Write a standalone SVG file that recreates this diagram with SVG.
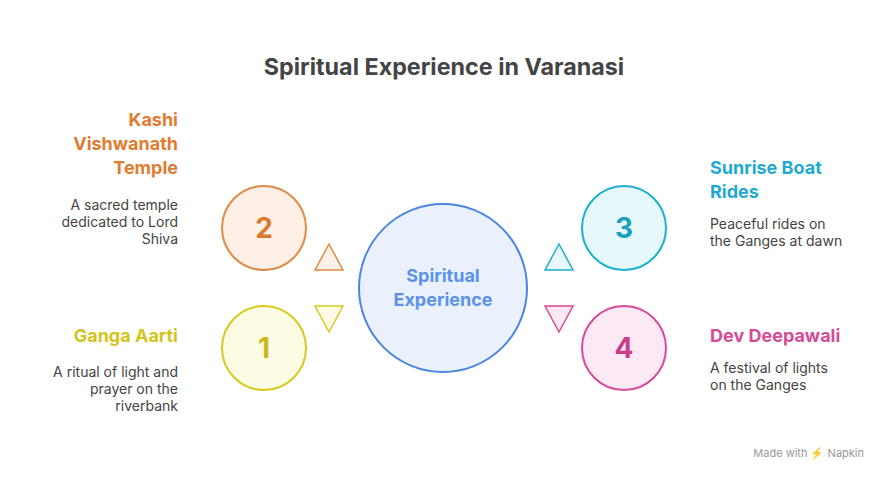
<svg xmlns="http://www.w3.org/2000/svg" width="888" height="480" viewBox="0 0 888 480">
<style>
text{font-family:Inter,"Liberation Sans",sans-serif}
.t{font-size:23.3px;font-weight:700;fill:#444}
.h{font-size:18px;font-weight:700}
.d{font-size:14px;fill:#444}
.n{font-size:28px;font-weight:700}
.o{stroke-width:2}
</style>
<rect width="888" height="480" fill="#fff"/>
<text class="t" x="444" y="75" text-anchor="middle">Spiritual Experience in Varanasi</text>
<g id="connectors">
<polygon points="329,244 315,270 343,270" fill="#FEF0E6" stroke="#E08A45" stroke-width="1.5"/>
<polygon points="315,306 343,306 329,332" fill="#FDFBE3" stroke="#D9C921" stroke-width="1.5"/>
<polygon points="559,244 545,270 573,270" fill="#E6F8FC" stroke="#1EAFD0" stroke-width="1.5"/>
<polygon points="545,306 573,306 559,332" fill="#FDE9F4" stroke="#D94A9A" stroke-width="1.5"/>
</g>
<g id="center">
<circle cx="443" cy="288" r="84" fill="#EAF1FD" stroke="#4A86E0" class="o"/>
<text class="h" x="443" y="282" text-anchor="middle" fill="#5A93E8">Spiritual</text>
<text class="h" x="443" y="306" text-anchor="middle" fill="#5A93E8">Experience</text>
</g>
<g id="n2">
<circle cx="264" cy="228" r="42" fill="#FEF0E6" stroke="#E08A45" class="o"/>
<text class="n" x="264" y="238" text-anchor="middle" fill="#D9782F">2</text>
<text class="h" fill="#E07B30" text-anchor="end"><tspan x="178" y="126">Kashi</tspan><tspan x="178" y="150">Vishwanath</tspan><tspan x="178" y="174">Temple</tspan></text>
<text class="d" text-anchor="end"><tspan x="178" y="210">A sacred temple</tspan><tspan x="178" y="227">dedicated to Lord</tspan><tspan x="178" y="244">Shiva</tspan></text>
</g>
<g id="n1">
<circle cx="264" cy="348" r="42" fill="#FDFBE3" stroke="#D9C921" class="o"/>
<text class="n" x="264" y="358" text-anchor="middle" fill="#C9B91A">1</text>
<text class="h" x="178" y="342" text-anchor="end" fill="#D4C41C">Ganga Aarti</text>
<text class="d" text-anchor="end"><tspan x="178" y="377">A ritual of light and</tspan><tspan x="178" y="394">prayer on the</tspan><tspan x="178" y="411">riverbank</tspan></text>
</g>
<g id="n3">
<circle cx="624" cy="228" r="42" fill="#E6F8FC" stroke="#1EAFD0" class="o"/>
<text class="n" x="624" y="238" text-anchor="middle" fill="#1A9FC0">3</text>
<text class="h" fill="#1EAAD0"><tspan x="710" y="174">Sunrise Boat</tspan><tspan x="710" y="198">Rides</tspan></text>
<text class="d"><tspan x="710" y="229">Peaceful rides on</tspan><tspan x="710" y="246">the Ganges at dawn</tspan></text>
</g>
<g id="n4">
<circle cx="624" cy="348" r="42" fill="#FDE9F4" stroke="#D94A9A" class="o"/>
<text class="n" x="624" y="358" text-anchor="middle" fill="#C93E8A">4</text>
<text class="h" x="710" y="342" fill="#D64A98">Dev Deepawali</text>
<text class="d"><tspan x="710" y="373">A festival of lights</tspan><tspan x="710" y="390">on the Ganges</tspan></text>
</g>
<text x="864" y="457" text-anchor="end" font-size="11" fill="#999">Made with ⚡ Napkin</text>
</svg>
